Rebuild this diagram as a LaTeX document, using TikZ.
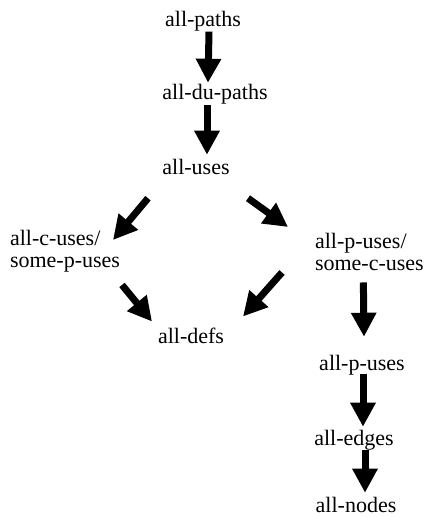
\documentclass[tikz,border=0pt]{standalone}
\usepackage{fontspec}
\setmainfont{Liberation Serif}
\usetikzlibrary{arrows.meta}
\begin{document}
\begin{tikzpicture}[x=1pt,y=-1pt,
  lbl/.style={inner sep=0pt,outer sep=0pt,font=\fontsize{22}{22}\selectfont},
  bigarrow/.style={line width=7pt,-{Triangle[length=24pt,width=24pt]}}]
\useasboundingbox (0,0) rectangle (430,518);
% nodes
\node[lbl,anchor=base] (ap)  at (203,27)  {all-paths};
\node[lbl,anchor=base] (adp) at (215,100) {all-du-paths};
\node[lbl,anchor=base] (au)  at (196,175) {all-uses};
\node[lbl,anchor=north west,align=left] (cu) at (10,230) {all-c-uses/\\some-p-uses};
\node[lbl,anchor=north west,align=left] (pc) at (315,233) {all-p-uses/\\some-c-uses};
\node[lbl,anchor=base] (ad)  at (191,343) {all-defs};
\node[lbl,anchor=base] (pu)  at (362,370) {all-p-uses};
\node[lbl,anchor=base] (ae)  at (354,445) {all-edges};
\node[lbl,anchor=base] (an)  at (356,512) {all-nodes};
% connectors
\draw[bigarrow] ([xshift=6pt]ap.south) -- ([xshift=-7pt,yshift=2pt]adp.north);
\draw[bigarrow] ([xshift=-8pt]adp.south) -- ([xshift=11pt,yshift=5pt]au.north);
\draw[bigarrow] ([xshift=-48pt,yshift=-23pt]au.south) -- ([xshift=-7pt,yshift=-10pt]cu.north east);
\draw[bigarrow] ([xshift=52pt,yshift=-23pt]au.south) -- ([xshift=-27pt,yshift=6pt]pc.north west);
\draw[bigarrow] ([xshift=2pt,yshift=-13pt]cu.south east) -- ([xshift=-6pt,yshift=6pt]ad.north west);
\draw[bigarrow] ([xshift=-33pt,yshift=-2pt]pc.south west) -- ([xshift=19pt,yshift=11pt]ad.north east);
\draw[bigarrow] ([xshift=-6pt,yshift=-12pt]pc.south) -- ([xshift=2pt,yshift=18pt]pu.north);
\draw[bigarrow] ([xshift=1pt,yshift=1pt]pu.south) -- ([xshift=9pt,yshift=3pt]ae.north);
\draw[bigarrow] ([xshift=11pt]ae.south) -- ([xshift=9pt,yshift=4pt]an.north);
\end{tikzpicture}
\end{document}
